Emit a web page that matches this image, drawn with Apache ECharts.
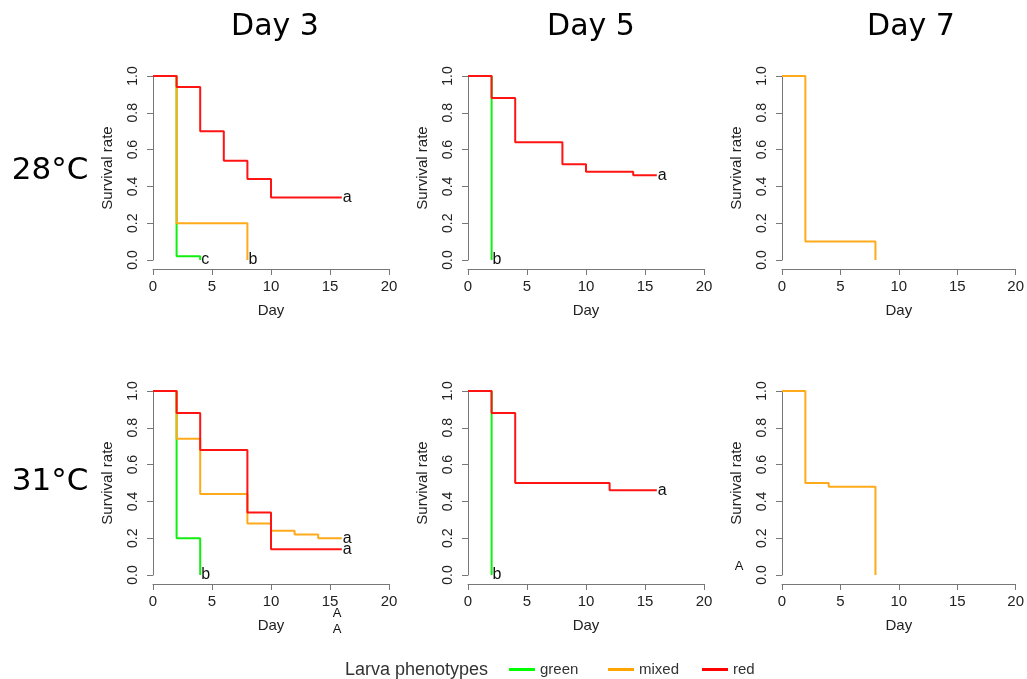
<!DOCTYPE html>
<html>
<head>
<meta charset="utf-8">
<script src="https://cdn.jsdelivr.net/npm/echarts@6/dist/echarts.min.js"></script>
<style>
html,body{margin:0;padding:0;background:#fff;}
#c{width:1027px;height:679px;}
</style>
</head>
<body>
<div id="c"></div>
<script>
// ---- Data (Kaplan–Meier steps: time, survival after that time) ----
const xTicks = [0, 5, 10, 15, 20];
const yTicks = [0.0, 0.2, 0.4, 0.6, 0.8, 1.0];
const colTitles = ['Day 3', 'Day 5', 'Day 7'];
const rowTitles = ['28°C', '31°C'];
const phenotypes = ['green', 'mixed', 'red'];

// 28°C, Day 3
const t28d3Green = [0, 2, 4];            const s28d3Green = [1, 0.02, 0];
const t28d3Mixed = [0, 2, 8];            const s28d3Mixed = [1, 0.20, 0];
const t28d3Red   = [0, 2, 4, 6, 8, 10, 16]; const s28d3Red = [1, 0.94, 0.70, 0.54, 0.44, 0.34, 0.34];
// 28°C, Day 5
const t28d5Green = [0, 2];               const s28d5Green = [1, 0];
const t28d5Red   = [0, 2, 4, 8, 10, 14, 16]; const s28d5Red = [1, 0.88, 0.64, 0.52, 0.48, 0.46, 0.46];
// 28°C, Day 7
const t28d7Mixed = [0, 2, 8];            const s28d7Mixed = [1, 0.10, 0];
// 31°C, Day 3
const t31d3Green = [0, 2, 4];            const s31d3Green = [1, 0.20, 0];
const t31d3Mixed = [0, 2, 4, 8, 10, 12, 14, 16]; const s31d3Mixed = [1, 0.74, 0.44, 0.28, 0.24, 0.22, 0.20, 0.20];
const t31d3Red   = [0, 2, 4, 8, 10, 16]; const s31d3Red = [1, 0.88, 0.68, 0.34, 0.14, 0.14];
// 31°C, Day 5
const t31d5Green = [0, 2];               const s31d5Green = [1, 0];
const t31d5Red   = [0, 2, 4, 12, 16];    const s31d5Red = [1, 0.88, 0.50, 0.46, 0.46];
// 31°C, Day 7
const t31d7Mixed = [0, 2, 4, 8];         const s31d7Mixed = [1, 0.50, 0.48, 0];

// Significance letters at curve ends
const panels = [
  [ {ph:'green', t:t28d3Green, s:s28d3Green, lab:'c'}, {ph:'mixed', t:t28d3Mixed, s:s28d3Mixed, lab:'b'}, {ph:'red', t:t28d3Red, s:s28d3Red, lab:'a'} ],
  [ {ph:'green', t:t28d5Green, s:s28d5Green, lab:'b'}, {ph:'red', t:t28d5Red, s:s28d5Red, lab:'a'} ],
  [ {ph:'mixed', t:t28d7Mixed, s:s28d7Mixed, lab:''} ],
  [ {ph:'green', t:t31d3Green, s:s31d3Green, lab:'b'}, {ph:'mixed', t:t31d3Mixed, s:s31d3Mixed, lab:'a'}, {ph:'red', t:t31d3Red, s:s31d3Red, lab:'a'} ],
  [ {ph:'green', t:t31d5Green, s:s31d5Green, lab:'b'}, {ph:'red', t:t31d5Red, s:s31d5Red, lab:'a'} ],
  [ {ph:'mixed', t:t31d7Mixed, s:s31d7Mixed, lab:''} ]
];

// ---- Styling ----
const colors = { green: '#11ee11', mixed: '#ffaa1a', red: '#ff1414' };
const legendColors = { green: '#00ff00', mixed: '#ffa500', red: '#ff0000' };
const FONT = '"Liberation Sans", Arial, sans-serif';
const gridLefts = [153, 468, 782];
const gridTops = [76, 391];
const gridW = 236, gridH = 184;

const grids = [], xAxes = [], yAxes = [], series = [];
for (let i = 0; i < 6; i++) {
  const r = Math.floor(i / 3), c = i % 3;
  grids.push({ left: gridLefts[c], top: gridTops[r], width: gridW, height: gridH });
  xAxes.push({
    gridIndex: i, type: 'value', min: xTicks[0], max: xTicks[xTicks.length - 1], interval: 5,
    offset: 9, position: 'bottom',
    name: 'Day', nameLocation: 'middle', nameGap: 34,
    nameTextStyle: { fontFamily: FONT, fontSize: 15, color: '#222' },
    axisLine: { show: true, onZero: false, lineStyle: { color: '#777', width: 1 } },
    axisTick: { show: true, length: 6, lineStyle: { color: '#777' } },
    axisLabel: { fontFamily: FONT, fontSize: 15, color: '#222', margin: 10 },
    splitLine: { show: false }
  });
  yAxes.push({
    gridIndex: i, type: 'value', min: yTicks[0], max: yTicks[yTicks.length - 1], interval: 0.2,
    name: 'Survival rate', nameLocation: 'middle', nameGap: 38,
    nameTextStyle: { fontFamily: FONT, fontSize: 15, color: '#222' },
    axisLine: { show: true, onZero: false, lineStyle: { color: '#777', width: 1 } },
    axisTick: { show: true, length: 6, lineStyle: { color: '#777' } },
    axisLabel: { fontFamily: FONT, fontSize: 14, color: '#222', rotate: 90, margin: 13,
                 formatter: v => v.toFixed(1) },
    splitLine: { show: false }
  });
  panels[i].forEach(p => {
    series.push({
      name: p.ph, type: 'line', xAxisIndex: i, yAxisIndex: i,
      step: 'end', showSymbol: false, symbol: 'none', clip: false, silent: true,
      data: p.t.map((t, k) => [t, p.s[k]]),
      itemStyle: { color: legendColors[p.ph] },
      lineStyle: { color: colors[p.ph], width: 2 },
      endLabel: { show: p.lab !== '', formatter: p.lab, distance: 1,
                  fontFamily: FONT, fontSize: 16, color: '#111' }
    });
  });
}

const graphics = [];
const colCenters = [275, 591, 911];
colTitles.forEach((t, k) => graphics.push({
  type: 'text', style: { x: colCenters[k], y: 27, text: t, fill: '#000',
    font: '30px "DejaVu Sans"', textAlign: 'center', textVerticalAlign: 'middle' } }));
const rowCenters = [171, 482];
rowTitles.forEach((t, k) => graphics.push({
  type: 'text', style: { x: 50, y: rowCenters[k], text: t, fill: '#000',
    font: '31px "DejaVu Sans"', textAlign: 'center', textVerticalAlign: 'middle' } }));
// stray letters printed outside the axes
[[337, 613], [337, 629], [739, 566]].forEach(([x, y]) => graphics.push({
  type: 'text', style: { x: x, y: y, text: 'A', fill: '#111', font: '13px "Liberation Sans"',
    textAlign: 'center', textVerticalAlign: 'middle' } }));
graphics.push({ type: 'text', style: { x: 345, y: 670, text: 'Larva phenotypes', fill: '#333',
  font: '18px "Liberation Sans"', textAlign: 'left', textVerticalAlign: 'middle' } });

const legendLefts = [509, 608, 702];
const legends = phenotypes.map((ph, k) => ({
  data: [ph], left: legendLefts[k], top: 662, padding: 0, orient: 'horizontal',
  icon: 'rect', itemWidth: 26, itemHeight: 3, itemGap: 0, selectedMode: false,
  textStyle: { fontFamily: FONT, fontSize: 15, color: '#333', padding: [0, 0, 0, 0] }
}));

const chart = echarts.init(document.getElementById('c'), null, { renderer: 'canvas' });
chart.setOption({
  animation: false,
  backgroundColor: '#fff',
  grid: grids, xAxis: xAxes, yAxis: yAxes, series: series,
  legend: legends, graphic: graphics
});
</script>
</body>
</html>
